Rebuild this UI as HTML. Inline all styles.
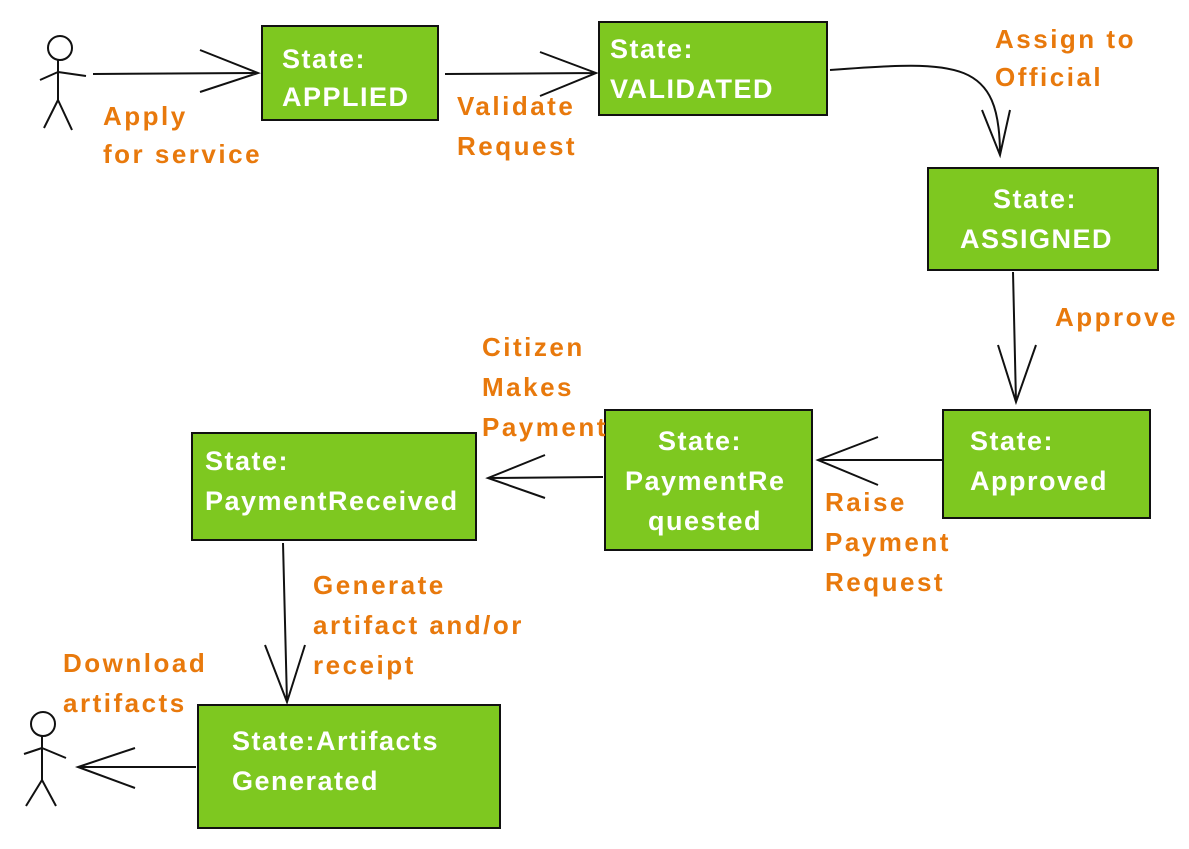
<!DOCTYPE html>
<html><head><meta charset="utf-8"><style>
html,body{margin:0;padding:0;background:#fff;}
svg{display:block;font-family:"Liberation Sans",sans-serif;}
.w{fill:#fff;font-size:27px;letter-spacing:1.5px;font-weight:bold;}
.o{fill:#e8790c;font-size:26px;letter-spacing:2.5px;font-weight:bold;}
.b{fill:#7ec820;stroke:#111;stroke-width:2;}
.l{stroke:#111;stroke-width:2;fill:none;}
</style></head><body>
<svg width="1189" height="849" viewBox="0 0 1189 849">
<rect class="b" x="262" y="26" width="176" height="94"/>
<rect class="b" x="599" y="22" width="228" height="93"/>
<rect class="b" x="928" y="168" width="230" height="102"/>
<rect class="b" x="943" y="410" width="207" height="108"/>
<rect class="b" x="605" y="410" width="207" height="140"/>
<rect class="b" x="192" y="433" width="284" height="107"/>
<rect class="b" x="198" y="705" width="302" height="123"/>
<text class="w" x="282" y="68">State:</text>
<text class="w" x="282" y="106">APPLIED</text>
<text class="w" x="610" y="58">State:</text>
<text class="w" x="610" y="98">VALIDATED</text>
<text class="w" x="993" y="208">State:</text>
<text class="w" x="960" y="248">ASSIGNED</text>
<text class="w" x="970" y="450">State:</text>
<text class="w" x="970" y="490">Approved</text>
<text class="w" x="658" y="450">State:</text>
<text class="w" x="625" y="490">PaymentRe</text>
<text class="w" x="648" y="530">quested</text>
<text class="w" x="205" y="470">State:</text>
<text class="w" x="205" y="510">PaymentReceived</text>
<text class="w" x="232" y="750">State:Artifacts</text>
<text class="w" x="232" y="790">Generated</text>
<text class="o" x="103" y="125">Apply</text>
<text class="o" x="103" y="163">for service</text>
<text class="o" x="457" y="115">Validate</text>
<text class="o" x="457" y="155">Request</text>
<text class="o" x="995" y="48">Assign to</text>
<text class="o" x="995" y="86">Official</text>
<text class="o" x="1055" y="326">Approve</text>
<text class="o" x="482" y="356">Citizen</text>
<text class="o" x="482" y="396">Makes</text>
<text class="o" x="482" y="436">Payment</text>
<text class="o" x="825" y="511">Raise</text>
<text class="o" x="825" y="551">Payment</text>
<text class="o" x="825" y="591">Request</text>
<text class="o" x="313" y="594">Generate</text>
<text class="o" x="313" y="634">artifact and/or</text>
<text class="o" x="313" y="674">receipt</text>
<text class="o" x="63" y="672">Download</text>
<text class="o" x="63" y="712">artifacts</text>
<path class="l" d="M93 74 L258 73 M200 50 L258 73 L200 92"/>
<path class="l" d="M445 74 L596 73 M540 52 L596 73 L540 96"/>
<path class="l" d="M830 70 C960 60 1000 60 1000 155 M982 110 L1000 155 L1010 110"/>
<path class="l" d="M1013 272 L1016 402 M998 345 L1016 402 L1036 345"/>
<path class="l" d="M943 460 L818 460 M878 437 L818 460 L878 485"/>
<path class="l" d="M603 477 L488 478 M545 455 L488 478 L545 498"/>
<path class="l" d="M283 543 L287 702 M265 645 L287 702 L305 645"/>
<path class="l" d="M196 767 L78 767 M135 748 L78 767 L135 788"/>
<g class="l" stroke-width="3">
<circle cx="60" cy="48" r="12"/>
<path d="M58 60 L58 100 M58 100 L44 128 M58 100 L72 130 M58 72 L86 76 M58 72 L40 80"/>
<circle cx="43" cy="724" r="12"/>
<path d="M42 736 L42 780 M42 780 L26 806 M42 780 L56 806 M42 748 L66 758 M42 748 L24 754"/>
</g>
</svg>
</body></html>
